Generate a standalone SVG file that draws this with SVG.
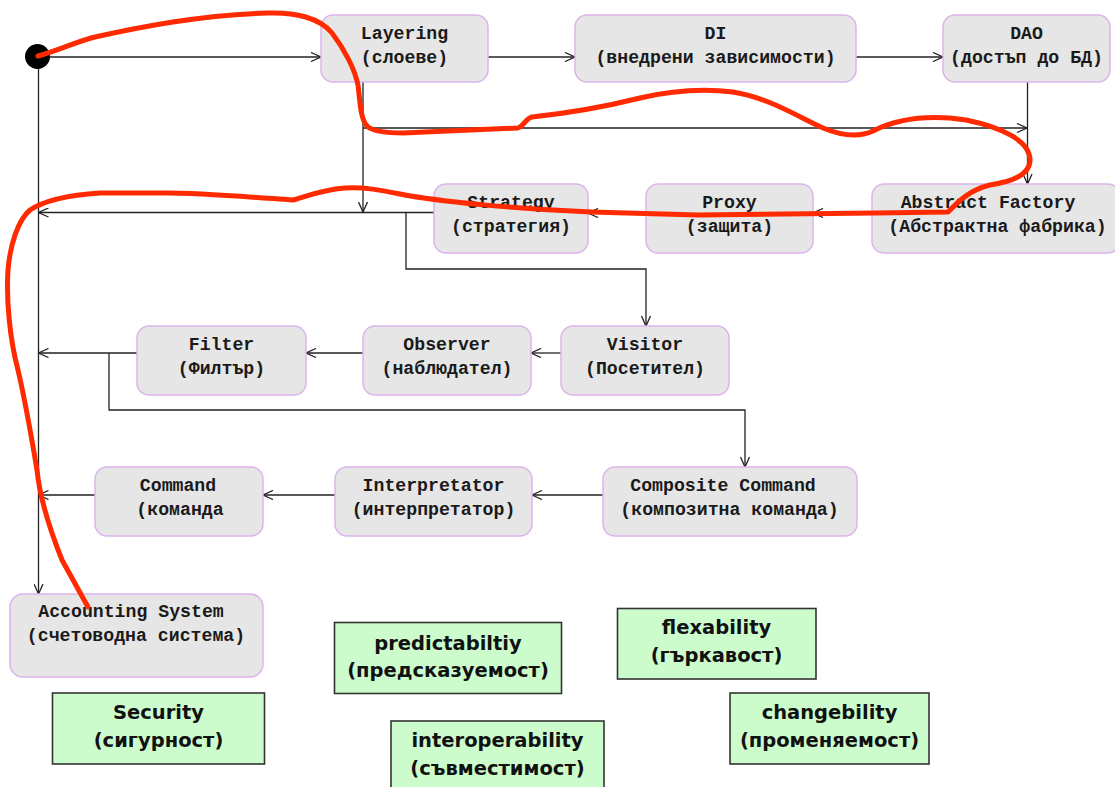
<svg xmlns="http://www.w3.org/2000/svg" width="1115" height="787" viewBox="0 0 1115 787">
  <style>
    .node rect { fill: #e6e6e6; stroke: #dcb4ec; stroke-width: 1.5; }
    .node text { font-family: "Liberation Mono", "Courier New", monospace; font-weight: bold; font-size: 18.2px; fill: #1a1a1a; text-anchor: middle; }
    .quality rect { fill: #ccfccc; stroke: #333; stroke-width: 1.6; }
    .quality text { font-family: "DejaVu Sans", "Liberation Sans", sans-serif; font-weight: bold; font-size: 19.5px; fill: #111; text-anchor: middle; }
    .edge { fill: none; stroke: #222; stroke-width: 1.3; marker-end: url(#open); }
    .wire { fill: none; stroke: #222; stroke-width: 1.3; }
    .stroke-mark { fill: none; stroke: #ff2a00; stroke-width: 5; stroke-linecap: round; stroke-linejoin: round; }
  </style>
  <defs>
    <marker id="open" viewBox="0 0 12 10" refX="11" refY="5" markerWidth="12" markerHeight="10" markerUnits="userSpaceOnUse" orient="auto">
      <path d="M1,0.5 L11,5 L1,9.5" fill="none" stroke="#222" stroke-width="1.3"/>
    </marker>
  </defs>
  <rect width="1115" height="787" fill="#fff"/>

  <!-- connectors -->
  <g id="connectors">
    <path class="edge" d="M38,57 H321"/>
    <path class="edge" d="M488,57 H575"/>
    <path class="edge" d="M856,57 H943"/>
    <path class="edge" d="M1027.5,82 V184"/>
    <path class="edge" d="M363,82 V212"/>
    <path class="edge" d="M363,128 H1027"/>
    <path class="edge" d="M872,213 H813"/>
    <path class="edge" d="M646,213 H588"/>
    <path class="edge" d="M434,212.5 H38.5"/>
    <path class="edge" d="M406,212.5 V269 H646 V326"/>
    <path class="edge" d="M561,353 H531"/>
    <path class="edge" d="M363,353 H306"/>
    <path class="edge" d="M137,353 H38.5"/>
    <path class="edge" d="M109,353 V410 H745 V467"/>
    <path class="edge" d="M603,495 H532"/>
    <path class="edge" d="M335,495 H263"/>
    <path class="edge" d="M95,495 H38.5"/>
    <path class="edge" d="M38.5,57 V594"/>
  </g>

  <!-- start point -->
  <g id="start">
    <circle cx="37.5" cy="56.5" r="12.5" fill="#000"/>
  </g>

  <!-- pattern nodes -->
  <g id="layering" class="node">
    <rect x="321" y="15" width="167" height="67" rx="12"/>
    <text x="404.5" y="39">Layering</text>
    <text x="404.5" y="63">(слоеве)</text>
  </g>
  <g id="di" class="node">
    <rect x="575" y="15" width="281" height="67" rx="12"/>
    <text x="715.5" y="39">DI</text>
    <text x="715.5" y="63">(внедрени зависимости)</text>
  </g>
  <g id="dao" class="node">
    <rect x="943" y="15" width="167" height="67" rx="12"/>
    <text x="1026.5" y="39">DAO</text>
    <text x="1026.5" y="63">(достъп до БД)</text>
  </g>
  <g id="strategy" class="node">
    <rect x="434" y="184" width="154" height="69" rx="12"/>
    <text x="511" y="208">Strategy</text>
    <text x="511" y="232">(стратегия)</text>
  </g>
  <g id="proxy" class="node">
    <rect x="646" y="184" width="167" height="69" rx="12"/>
    <text x="729.5" y="208">Proxy</text>
    <text x="729.5" y="232">(защита)</text>
  </g>
  <g id="abstract-factory" class="node">
    <rect x="872" y="184" width="248" height="69" rx="12"/>
    <text x="988" y="208">Abstract Factory</text>
    <text x="997.5" y="232">(Абстрактна фабрика)</text>
  </g>
  <g id="filter" class="node">
    <rect x="137" y="326" width="169" height="69" rx="12"/>
    <text x="221.5" y="350">Filter</text>
    <text x="221.5" y="374">(Филтър)</text>
  </g>
  <g id="observer" class="node">
    <rect x="363" y="326" width="168" height="69" rx="12"/>
    <text x="447" y="350">Observer</text>
    <text x="447" y="374">(наблюдател)</text>
  </g>
  <g id="visitor" class="node">
    <rect x="561" y="326" width="168" height="69" rx="12"/>
    <text x="645" y="350">Visitor</text>
    <text x="645" y="374">(Посетител)</text>
  </g>
  <g id="command" class="node">
    <rect x="95" y="467" width="168" height="69" rx="12"/>
    <text x="178" y="491">Command</text>
    <text x="180" y="515">(команда</text>
  </g>
  <g id="interpretator" class="node">
    <rect x="335" y="467" width="197" height="69" rx="12"/>
    <text x="433.5" y="491">Interpretator</text>
    <text x="433.5" y="515">(интерпретатор)</text>
  </g>
  <g id="composite-command" class="node">
    <rect x="603" y="467" width="254" height="69" rx="12"/>
    <text x="723" y="491">Composite Command</text>
    <text x="729.5" y="515">(композитна команда)</text>
  </g>
  <g id="accounting-system" class="node">
    <rect x="10" y="594" width="253" height="83" rx="13"/>
    <text x="131" y="617">Accounting System</text>
    <text x="136" y="641">(счетоводна система)</text>
  </g>

  <!-- quality attributes -->
  <g id="security" class="quality">
    <rect x="52.5" y="693" width="212" height="71"/>
    <text x="158.5" y="719">Security</text>
    <text x="158.5" y="747">(сигурност)</text>
  </g>
  <g id="predictability" class="quality">
    <rect x="334.5" y="622.5" width="227" height="71"/>
    <text x="448" y="650">predictabiltiy</text>
    <text x="448" y="677">(предсказуемост)</text>
  </g>
  <g id="interoperability" class="quality">
    <rect x="391" y="721" width="213" height="75"/>
    <text x="497.5" y="747">interoperability</text>
    <text x="497.5" y="775">(съвместимост)</text>
  </g>
  <g id="flexability" class="quality">
    <rect x="617.5" y="608.5" width="198.5" height="70.5"/>
    <text x="716.5" y="634">flexability</text>
    <text x="716.5" y="662">(гъркавост)</text>
  </g>
  <g id="changebility" class="quality">
    <rect x="730" y="693" width="199" height="71"/>
    <text x="829.5" y="719">changebility</text>
    <text x="829.5" y="747">(променяемост)</text>
  </g>

  <!-- hand-drawn route across the patterns -->
  <path class="stroke-mark" d="M38,56 C60,50 75,42 95,37 C140,27 200,15 268,13 C295,12 320,18 332,33 C345,50 355,70 358,85 C360,100 360,120 368,127 C375,132 390,133 403,133 L518,128 C524,126 526,118 532,117 C560,114 600,108 640,98 C670,91 700,88 733,92 C770,98 800,118 823,128 C840,135 858,138 873,131 C895,120 925,114 966,120 C1000,127 1030,140 1030,160 C1030,175 1010,182 990,185 C970,190 960,200 948,212 L876,213 L698,215 L591,212 C520,209 440,202 400,194 C380,190 365,187 345,188 C320,190 305,197 293,200 C250,197 200,193 167,193 L100,193 C70,195 45,200 30,210 C18,220 10,245 8,270 C6,300 10,340 18,370 C25,400 32,440 37,470 C40,500 50,530 62,560 L88,607"/>
</svg>
